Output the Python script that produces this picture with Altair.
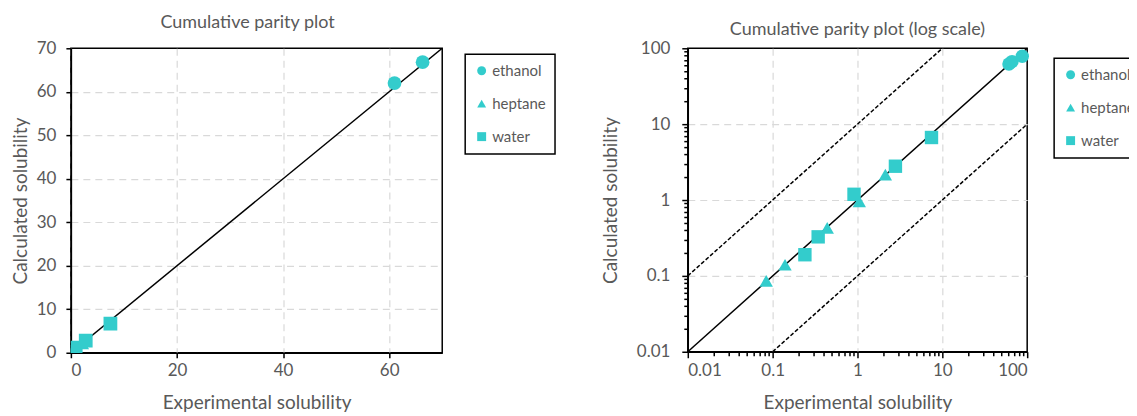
import altair as alt
import pandas as pd

# ---- data ----
solvent = ["ethanol", "ethanol", "ethanol",
           "heptane", "heptane", "heptane", "heptane", "heptane",
           "water", "water", "water", "water", "water"]
experimental = [61.0, 66.3, 87.5,
                0.084, 0.14, 0.44, 1.05, 2.13,
                0.24, 0.344, 0.91, 2.8, 7.45]
calculated = [62.0, 66.8, 78.5,
              0.086, 0.14, 0.43, 0.96, 2.16,
              0.19, 0.327, 1.19, 2.79, 6.67]

lin_ticks_x = [0, 20, 40, 60]
lin_ticks_y = [0, 10, 20, 30, 40, 50, 60, 70]
log_major = [0.01, 0.1, 1, 10, 100]
log_minor = [round(k * m, 6) for m in [0.01, 0.1, 1, 10] for k in range(2, 10)]

parity_lin_x = [0, 70]
parity_log_x = [0.01, 100]
band_id = ["upper", "upper", "lower", "lower"]
band_x = [0.01, 10, 0.1, 100]
band_y = [0.1, 100, 0.01, 10]

solvents = ["ethanol", "heptane", "water"]
shapes = ["circle", "triangle-up", "square"]

pts = pd.DataFrame({"solvent": solvent, "exp": experimental, "calc": calculated})
par_lin = pd.DataFrame({"x": parity_lin_x, "y": parity_lin_x})
par_log = pd.DataFrame({"x": parity_log_x, "y": parity_log_x})
band = pd.DataFrame({"id": band_id, "x": band_x, "y": band_y})

TURQ = "#33CCCC"
GRAY = "#595959"
FONT = "Lato"
GRID = "#D9D9D9"

def title(t, off, dx):
    return alt.TitleParams(t, font=FONT, fontSize=18, fontWeight="normal",
                           color=GRAY, offset=off, dx=dx)

legend_common = dict(title=None, orient="none", labelFont=FONT, labelFontSize=15,
                     labelColor=GRAY, symbolSize=80, strokeColor="black",
                     padding=9, rowPadding=17, symbolStrokeWidth=0, labelOffset=3)

# ---------- left: linear ----------
lin_sc = alt.Scale(domain=[0, 70], nice=False)
xl = alt.X("exp:Q", scale=lin_sc,
           axis=alt.Axis(values=lin_ticks_x, title="Experimental solubility",
                         ticks=True, tickSize=5, tickColor="black"))
yl = alt.Y("calc:Q", scale=lin_sc,
           axis=alt.Axis(values=lin_ticks_y, title="Calculated solubility",
                         ticks=True, tickSize=5, tickColor="black",
                         labelPadding=10, titlePadding=6,
                         gridOpacity={"condition": {"test": "datum.value == 0 || datum.value == 70",
                                                    "value": 0}, "value": 1}))

line_l = alt.Chart(par_lin).mark_line(color="black", strokeWidth=1.5, clip=True).encode(
    x=alt.X("x:Q", scale=lin_sc), y=alt.Y("y:Q", scale=lin_sc))
pts_l = alt.Chart(pts).mark_point(filled=True, color=TURQ, opacity=1, size=190, clip=True).encode(
    x=xl, y=yl,
    shape=alt.Shape("solvent:N", scale=alt.Scale(domain=solvents, range=shapes),
                    legend=alt.Legend(legendX=395, legendY=6, **legend_common)))
left = alt.layer(line_l, pts_l).properties(
    width=372, height=305, title=title("Cumulative parity plot", 7, -9))

# ---------- right: log ----------
tick_vals = sorted(log_major + log_minor)
major_test = "abs(log(datum.value)/LN10 - round(log(datum.value)/LN10)) < 0.001"
inner_test = "(" + major_test + ") && datum.value > 0.011 && datum.value < 99"
log_axis = dict(values=tick_vals, labelOverlap=False, ticks=True, tickColor="black",
                labelExpr="(" + major_test + ") ? format(datum.value, '~g') : ''",
                tickSize={"condition": {"test": major_test, "value": 6}, "value": 4},
                gridOpacity={"condition": {"test": inner_test, "value": 1}, "value": 0})
lsc = alt.Scale(type="log", domain=[0.01, 100], nice=False)

xr = alt.X("exp:Q", scale=lsc, axis=alt.Axis(title="Experimental solubility", **log_axis))
yr = alt.Y("calc:Q", scale=lsc, axis=alt.Axis(title="Calculated solubility",
                                              labelPadding=12, titlePadding=16, **log_axis))

line_r = alt.Chart(par_log).mark_line(color="black", strokeWidth=1.5).encode(
    x=alt.X("x:Q", scale=lsc), y=alt.Y("y:Q", scale=lsc))
band_r = alt.Chart(band).mark_line(color="black", strokeWidth=1.5, strokeDash=[4, 2]).encode(
    x=alt.X("x:Q", scale=lsc), y=alt.Y("y:Q", scale=lsc), detail="id:N")
pts_r = alt.Chart(pts).mark_point(filled=True, color=TURQ, opacity=1, size=180).encode(
    x=xr, y=yr,
    shape=alt.Shape("solvent:N", scale=alt.Scale(domain=solvents, range=shapes),
                    legend=alt.Legend(legendX=367, legendY=10, **legend_common)))
right = alt.layer(band_r, line_r, pts_r).properties(
    width=340, height=304, title=title("Cumulative parity plot (log scale)", 0, 0))

chart = alt.hconcat(left, right, spacing=43).resolve_scale(
    shape="independent").resolve_legend(
    shape="independent").configure_view(
    stroke="black", strokeWidth=1.5).configure_axis(
    labelFont=FONT, labelFontSize=17, labelColor=GRAY,
    titleFont=FONT, titleFontSize=19, titleFontWeight="normal", titleColor=GRAY,
    domainColor="black", domainWidth=1.5, tickWidth=1.5,
    gridColor=GRID, gridDash=[7, 5], gridWidth=1.2,
    labelPadding=5, titlePadding=15).configure_axisY(labelPadding=8, titlePadding=8).configure_legend(
    strokeWidth=1.5).properties(padding={"left": 2, "top": 5, "right": -17, "bottom": 0})

chart.save("out.html", embed_options={"renderer": "svg", "actions": False})
